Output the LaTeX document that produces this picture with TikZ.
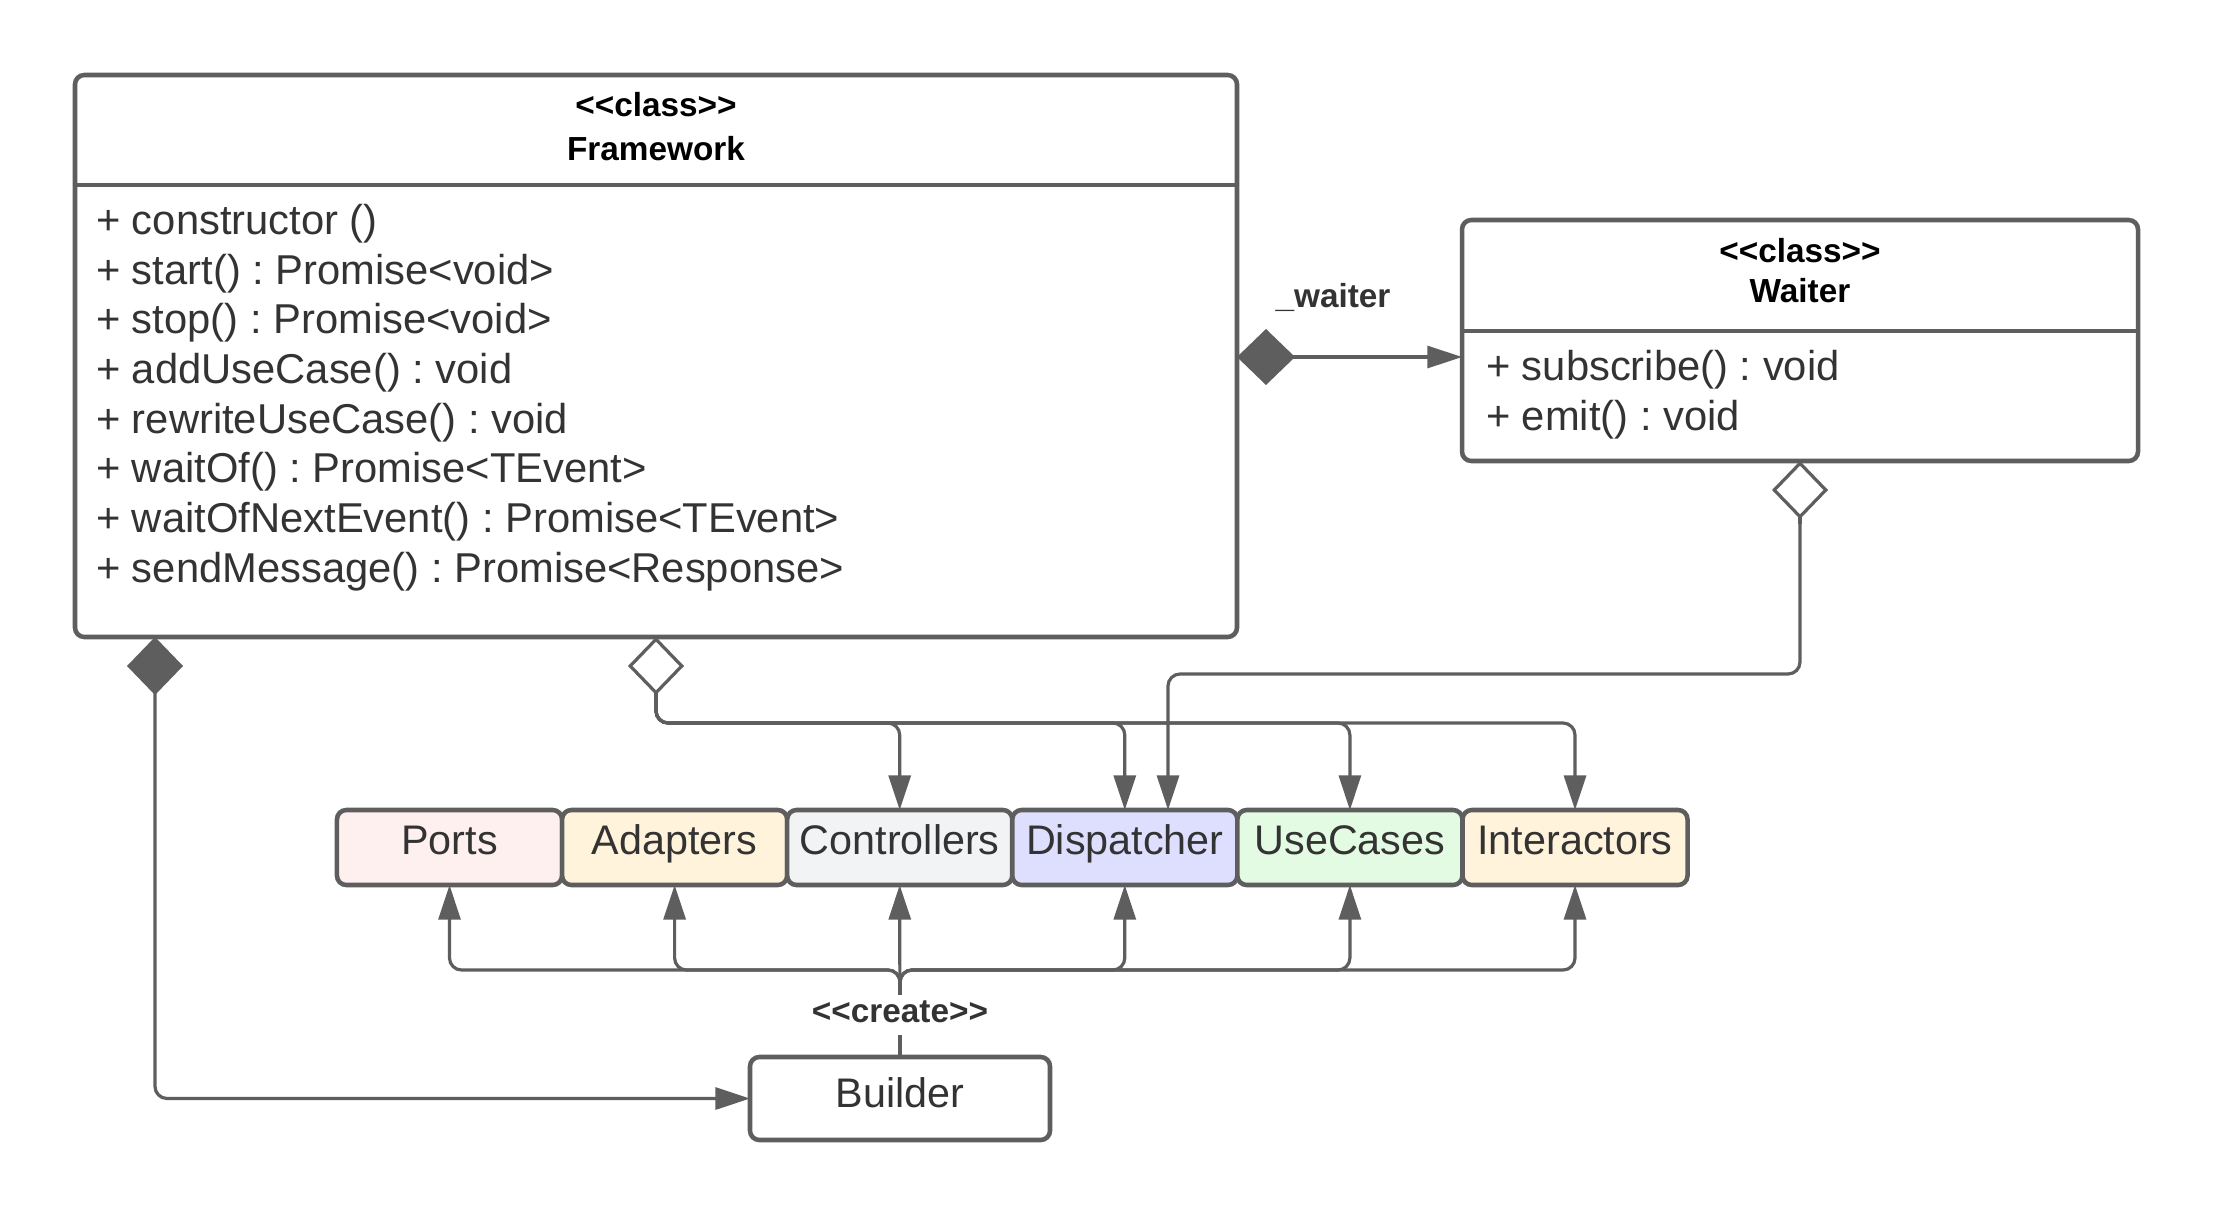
\documentclass[tikz,border=0pt]{standalone}
\usepackage{fontspec}
\newfontfamily\uifont{Liberation Sans}
\usetikzlibrary{arrows.meta,calc}
\definecolor{lc}{HTML}{5E5E5E}
\definecolor{tc}{HTML}{333333}
\definecolor{cports}{HTML}{FFF0F0}
\definecolor{cadapt}{HTML}{FFF3DB}
\definecolor{cctrl}{HTML}{F2F3F5}
\definecolor{cdisp}{HTML}{DEDFFF}
\definecolor{cuc}{HTML}{E3FAE3}
\definecolor{cinter}{HTML}{FFF3DB}
\newcommand\memfont{\uifont\frenchspacing\fontsize{31.3pt}{36pt}\selectfont}
\newcommand\boxfont{\uifont\frenchspacing\fontsize{31pt}{36pt}\selectfont}
\newcommand\hdrfont{\uifont\frenchspacing\fontsize{25pt}{30pt}\selectfont\bfseries}
\begin{document}
\begin{tikzpicture}[x=0.75pt,y=-0.75pt,
  every node/.style={inner sep=0pt, outer sep=0pt},
  box/.style={draw=lc, line width=3.4pt, rounded corners=7pt, fill=white},
  small/.style={box, minimum width=168.8pt, minimum height=56.25pt, text height=22pt, text depth=10.8pt, font=\boxfont, text=tc},
  hdr/.style={anchor=base, font=\hdrfont, text=black},
  mem/.style={anchor=base west, font=\memfont, text=tc},
  lbl/.style={anchor=base, font=\hdrfont, text=tc},
  conn/.style={draw=lc, line width=2.4pt, rounded corners=9pt},
  arr/.style={conn, -{Triangle[length=26pt,width=16.5pt]}},
  comp/.style={conn, {Diamond[length=43.5pt,width=42pt]}-{Triangle[length=26pt,width=16.5pt]}},
  aggr/.style={conn, {Diamond[length=43.5pt,width=42pt,fill=white]}-}
]
\useasboundingbox (0,0) rectangle (2213,1213);
\fill[white] (0,0) rectangle (2213,1213);

% Framework class
\node[box, minimum width=871.5pt, minimum height=421.5pt] (fw) at (656,356) {};
\draw[lc, line width=3.4pt] (fw.west |- 0,185) -- (fw.east |- 0,185);
\node[hdr] (fwst) at (656,117) {<<class>>};
\node[hdr] (fwname) at (656,160) {Framework};
\node[mem] (m1) at (96,234) {+ constructor ()};
\node[mem] (m2) at (96,284) {+ start() : Promise<void>};
\node[mem] (m3) at (96,333) {+ stop() : Promise<void>};
\node[mem] (m4) at (96,383) {+ addUseCase() : void};
\node[mem] (m5) at (96,433) {+ rewriteUseCase() : void};
\node[mem] (m6) at (96,482) {+ waitOf() : Promise<TEvent>};
\node[mem] (m7) at (96,532) {+ waitOfNextEvent() : Promise<TEvent>};
\node[mem] (m8) at (96,582) {+ sendMessage() : Promise<Response>};

% Waiter class
\node[box, minimum width=507pt, minimum height=180.75pt] (waiter) at (1800,340.5) {};
\draw[lc, line width=3.4pt] (waiter.west |- 0,331) -- (waiter.east |- 0,331);
\node[hdr] (wst) at (1800,262) {<<class>>};
\node[hdr] (wname) at (1800,302) {Waiter};
\node[mem] (w1) at (1486,380) {+ subscribe() : void};
\node[mem] (w2) at (1486,430) {+ emit() : void};

% component boxes
\node[small, fill=cports] (ports) at (449.5,847.5) {Ports};
\node[small, fill=cadapt] (adapters) at (674.6,847.5) {Adapters};
\node[small, fill=cctrl] (ctrl) at (899.7,847.5) {Controllers};
\node[small, fill=cdisp] (disp) at (1124.8,847.5) {Dispatcher};
\node[small, fill=cuc] (uc) at (1349.9,847.5) {UseCases};
\node[small, fill=cinter] (inter) at (1575,847.5) {Interactors};

% Builder
\node[small, minimum width=225pt, minimum height=62.25pt, text depth=9.2pt] (builder) at (900,1098.5) {Builder};

% Framework -> Waiter
\draw[comp] (fw.east |- 0,357) -- (waiter.west |- 0,357);
\node[lbl] (wlabel) at (1333,307) {\_waiter};

% Framework aggregation
\coordinate (fbus) at (656,723);
\coordinate (fdia) at (656,700);
\draw[arr] (fw.south) -- (fbus) -| (ctrl.north);
\draw[arr] (fw.south) -- (fbus) -| (disp.north);
\draw[arr] (fw.south) -- (fbus) -| (uc.north);
\draw[arr] (fw.south) -- (fbus) -| (inter.north);
\draw[aggr] (fw.south) -- (fdia);

% Waiter aggregation
\coordinate (wbus) at (1800,674);
\coordinate (wdia) at (1800,524);
\draw[arr] (waiter.south) -- (wbus) -| (1168,0 |- disp.north);
\draw[aggr] (waiter.south) -- (wdia);

% Framework -> Builder
\draw[comp] (155,0 |- fw.south) |- (builder.west);

% Builder creates
\coordinate (bbus) at (900,970);
\draw[arr] (builder.north) -- (bbus) -| (ports.south);
\draw[arr] (builder.north) -- (bbus) -| (adapters.south);
\draw[arr] (builder.north) -- (bbus) -| (disp.south);
\draw[arr] (builder.north) -- (bbus) -| (uc.south);
\draw[arr] (builder.north) -- (bbus) -| (inter.south);
\draw[arr] (builder.north) -- (ctrl.south);
\node[lbl, fill=white, text height=20pt, text depth=10pt] (create) at (900,1022) {<<create>>};
\end{tikzpicture}
\end{document}
